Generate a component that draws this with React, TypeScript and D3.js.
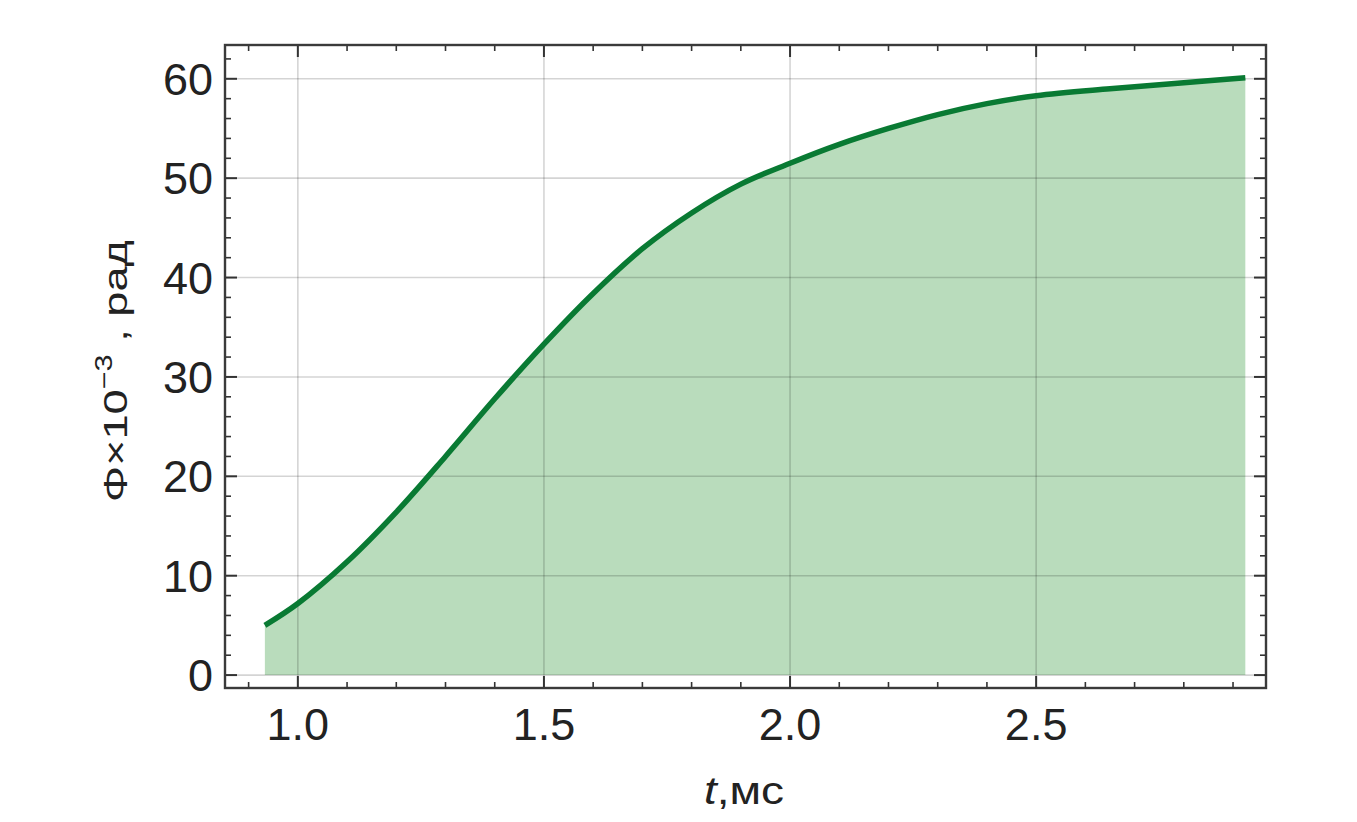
import React from "react";
import * as d3 from "d3";

const tValues = [0.933, 1.0, 1.1, 1.2, 1.3, 1.4, 1.5, 1.6, 1.7, 1.8, 1.9, 2.0, 2.1, 2.2, 2.3, 2.4, 2.5, 2.65, 2.8, 2.925];
const phiValues = [5.0, 7.2, 11.4, 16.4, 22.0, 27.8, 33.3, 38.4, 42.9, 46.5, 49.4, 51.5, 53.4, 55.0, 56.4, 57.5, 58.3, 59.0, 59.6, 60.1];
const xMajorTicks = [1.0, 1.5, 2.0, 2.5];
const xTickLabels = ["1.0", "1.5", "2.0", "2.5"];
const yMajorTicks = [0, 10, 20, 30, 40, 50, 60];
const yTickLabels = ["0", "10", "20", "30", "40", "50", "60"];
const xMinorTicks = [0.9, 1.1, 1.2, 1.3, 1.4, 1.6, 1.7, 1.8, 1.9, 2.1, 2.2, 2.3, 2.4, 2.6, 2.7, 2.8, 2.9];
const yMinorTicks = [2, 4, 6, 8, 12, 14, 16, 18, 22, 24, 26, 28, 32, 34, 36, 38, 42, 44, 46, 48, 52, 54, 56, 58, 62];

const W = 1357, H = 822;
const L = 225, R = 1266, T = 45, B = 688;

export default function App() {
  const x = d3.scaleLinear().domain([0.852, 2.967]).range([L, R]);
  const y = d3.scaleLinear().domain([-1.3, 63.4]).range([B, T]);
  const pts = tValues.map((t, i) => [t, phiValues[i]] as [number, number]);
  const curve = d3.curveCatmullRom.alpha(0.5);
  const line = d3.line<[number, number]>().x(d => x(d[0])).y(d => y(d[1])).curve(curve);
  const area = d3.area<[number, number]>().x(d => x(d[0])).y0(y(0)).y1(d => y(d[1])).curve(curve);
  const font = "'Liberation Sans', Arial, sans-serif";
  const tickColor = "#333";
  const majLen = 12, minLen = 6;

  return (
    <svg width={W} height={H} style={{ position: "absolute", left: 0, top: 0, background: "#fff" }}>
      <rect x={0} y={0} width={W} height={H} fill="#fff" />
      <path d={area(pts) || ""} fill="#b9dcbc" />
      {xMajorTicks.map(v => (
        <line key={"gx" + v} x1={x(v)} x2={x(v)} y1={T} y2={B} stroke="rgba(0,0,0,0.17)" strokeWidth={1.6} />
      ))}
      {yMajorTicks.map(v => (
        <line key={"gy" + v} x1={L} x2={R} y1={y(v)} y2={y(v)} stroke="rgba(0,0,0,0.17)" strokeWidth={1.6} />
      ))}
      <path d={line(pts) || ""} fill="none" stroke="#097a33" strokeWidth={5.5} />
      {xMajorTicks.map(v => (
        <g key={"tx" + v}>
          <line x1={x(v)} x2={x(v)} y1={B} y2={B - majLen} stroke={tickColor} strokeWidth={2} />
          <line x1={x(v)} x2={x(v)} y1={T} y2={T + majLen} stroke={tickColor} strokeWidth={2} />
        </g>
      ))}
      {xMinorTicks.map(v => (
        <g key={"mx" + v}>
          <line x1={x(v)} x2={x(v)} y1={B} y2={B - minLen} stroke={tickColor} strokeWidth={1.6} />
          <line x1={x(v)} x2={x(v)} y1={T} y2={T + minLen} stroke={tickColor} strokeWidth={1.6} />
        </g>
      ))}
      {yMajorTicks.map(v => (
        <g key={"ty" + v}>
          <line x1={L} x2={L + majLen} y1={y(v)} y2={y(v)} stroke={tickColor} strokeWidth={2} />
          <line x1={R} x2={R - majLen} y1={y(v)} y2={y(v)} stroke={tickColor} strokeWidth={2} />
        </g>
      ))}
      {yMinorTicks.map(v => (
        <g key={"my" + v}>
          <line x1={L} x2={L + minLen} y1={y(v)} y2={y(v)} stroke={tickColor} strokeWidth={1.6} />
          <line x1={R} x2={R - minLen} y1={y(v)} y2={y(v)} stroke={tickColor} strokeWidth={1.6} />
        </g>
      ))}
      <rect x={L} y={T} width={R - L} height={B - T} fill="none" stroke="#3a3a3a" strokeWidth={2.4} />
      {xMajorTicks.map((v, i) => (
        <text key={"lx" + v} x={x(v)} y={740} textAnchor="middle" fontFamily={font} fontSize={45} fill="#222">
          {xTickLabels[i]}
        </text>
      ))}
      {yMajorTicks.map((v, i) => (
        <text key={"ly" + v} x={213} y={y(v) + 16} textAnchor="end" fontFamily={font} fontSize={45} fill="#222">
          {yTickLabels[i]}
        </text>
      ))}
      <text x={704} y={804} fontFamily={font} fontSize={38} fill="#222" textLength={80} lengthAdjust="spacingAndGlyphs">
        <tspan fontStyle="italic">t</tspan>
        <tspan>,мс</tspan>
      </text>
      <text transform="translate(127,502) rotate(-90)" fontFamily={font} fontSize={34} fill="#222" textLength={262} lengthAdjust="spacingAndGlyphs">
        <tspan>Φ×10</tspan>
        <tspan fontSize={23} dy={-15}>−3</tspan>
        <tspan dy={15}> , рад</tspan>
      </text>
    </svg>
  );
}
